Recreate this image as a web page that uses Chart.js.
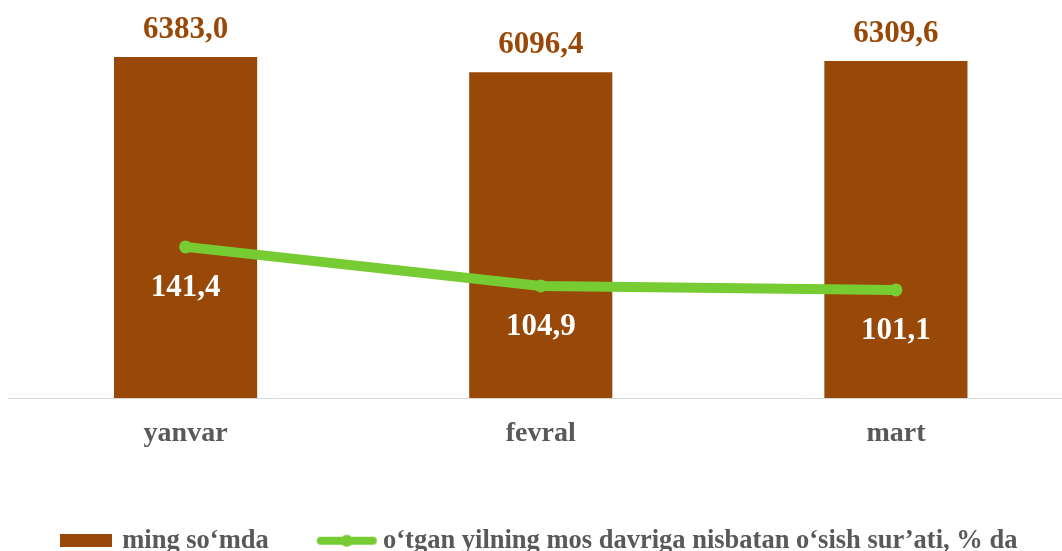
<!DOCTYPE html>
<html><head><meta charset="utf-8">
<script src="https://cdn.jsdelivr.net/npm/chart.js@4/dist/chart.umd.min.js"></script>
<style>html,body{margin:0;padding:0;overflow:hidden;background:#fff;width:1062px;height:551px}canvas{display:block}</style>
</head><body>
<canvas id="c" width="1080" height="564"></canvas>
<script>
const categories = ['yanvar', 'fevral', 'mart'];
const amountValues = [6383.0, 6096.4, 6309.6];
const growthValues = [141.4, 104.9, 101.1];
const seriesNames = ['ming so‘mda', 'o‘tgan yilning mos davriga nisbatan o‘sish sur’ati, % da'];

const BROWN = '#984807';
const GREEN = '#77CC33';
const GREY = '#595959';
const FONT = '"Liberation Serif", "Times New Roman", serif';
const LEGEND_PAD = 55;
const LEGEND_FONT = 26.5;
const fmt = v => v.toFixed(1).replace('.', ',');

function boxImage() {
  const c = document.createElement('canvas'); c.width = 52; c.height = 13;
  const x = c.getContext('2d'); x.fillStyle = BROWN; x.fillRect(0, 0, 52, 13);
  return c;
}
function lineImage() {
  const c = document.createElement('canvas'); c.width = 62; c.height = 14;
  const x = c.getContext('2d');
  x.strokeStyle = GREEN; x.lineWidth = 8; x.lineCap = 'round';
  x.beginPath(); x.moveTo(5, 7); x.lineTo(57, 7); x.stroke();
  x.fillStyle = GREEN; x.beginPath(); x.arc(31, 7, 6, 0, Math.PI * 2); x.fill();
  return c;
}
const legendImages = [boxImage(), lineImage()];

const valueLabels = {
  id: 'valueLabels',
  afterDatasetsDraw(chart) {
    const ctx = chart.ctx;
    ctx.save();
    ctx.textAlign = 'center';
    ctx.textBaseline = 'middle';
    ctx.font = 'bold 31px ' + FONT;
    chart.getDatasetMeta(0).data.forEach((bar, i) => {
      ctx.fillStyle = BROWN;
      ctx.fillText(fmt(amountValues[i]), bar.x, bar.y - 27);
    });
    chart.getDatasetMeta(1).data.forEach((pt, i) => {
      ctx.fillStyle = '#FFFFFF';
      ctx.fillText(fmt(growthValues[i]), pt.x, pt.y + 41);
    });
    ctx.restore();
  }
};

new Chart(document.getElementById('c'), {
  data: {
    labels: categories,
    datasets: [
      {
        type: 'bar', label: seriesNames[0], data: amountValues,
        backgroundColor: BROWN, yAxisID: 'y', order: 1,
        categoryPercentage: 1, barPercentage: 0.403
      },
      {
        type: 'line', label: seriesNames[1], data: growthValues,
        borderColor: GREEN, backgroundColor: GREEN, borderWidth: 10,
        pointRadius: 6.5, pointBackgroundColor: GREEN, pointBorderWidth: 0,
        tension: 0, yAxisID: 'y1', order: 0, borderCapStyle: 'round'
      }
    ]
  },
  options: {
    responsive: false,
    animation: false,
    layout: { padding: { top: 24, left: 8, right: 0, bottom: 0 } },
    scales: {
      x: {
        grid: { display: true, drawOnChartArea: false, drawTicks: false },
        border: { display: true, color: '#D9D9D9', width: 1 },
        ticks: { color: GREY, font: { family: FONT, size: 28, weight: 'bold' }, padding: 19 },
        afterFit(scale) { scale.height = 564 - 398 - (LEGEND_FONT + LEGEND_PAD + 10); }
      },
      y: { display: false, min: 0, max: 7000 },
      y1: { display: false, min: 0, max: 350, position: 'right' }
    },
    plugins: {
      tooltip: { enabled: false },
      legend: {
        position: 'bottom',
        align: 'start',
        labels: {
          usePointStyle: true,
          pointStyleWidth: 46,
          padding: LEGEND_PAD,
          color: GREY,
          font: { family: FONT, size: LEGEND_FONT, weight: 'bold' },
          generateLabels(chart) {
            return chart.data.datasets.map((ds, i) => ({
              text: ds.label,
              pointStyle: legendImages[i],
              fillStyle: i === 0 ? BROWN : GREEN,
              strokeStyle: 'transparent',
              lineWidth: 0,
              fontColor: GREY,
              hidden: false,
              datasetIndex: i
            }));
          }
        }
      }
    }
  },
  plugins: [valueLabels]
});
</script>
</body></html>
